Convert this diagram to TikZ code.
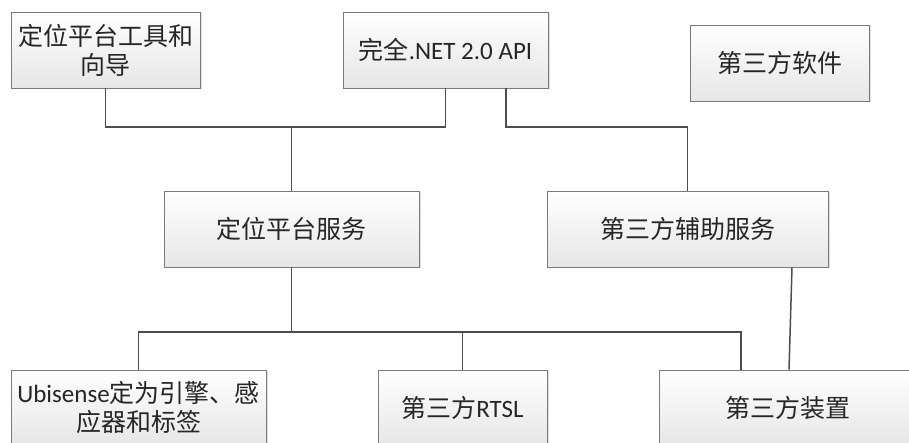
\documentclass[tikz,border=0pt]{standalone}
\usepackage{fontspec}
\setmainfont{Carlito}
\newfontfamily\cjk{Noto Sans CJK SC}
\usetikzlibrary{shadows}

\definecolor{boxline}{HTML}{7A7A7A}
\definecolor{wire}{HTML}{4D4D4D}
\definecolor{ink}{HTML}{262626}
\definecolor{boxbottom}{HTML}{E6E6E6}

\tikzset{
  unitbox/.style={
    draw=boxline, line width=0.9pt,
    top color=white, bottom color=boxbottom,
    drop shadow={shadow xshift=1.5pt, shadow yshift=-1.5pt, opacity=0.25},
    minimum height=76pt, inner sep=2pt,
    align=center, text=ink,
    font=\fontsize{25}{29}\selectfont
  },
  wireline/.style={draw=wire, line width=1.5pt}
}

\begin{document}
\begin{tikzpicture}[x=1pt, y=1pt]
  \useasboundingbox (0,0) rectangle (909,443);
  \clip (0,0) rectangle (909,443);

  % top row
  \node[unitbox, minimum width=189pt] (tools) at (105.5,393) {{\cjk 定位平台工具和}\\{\cjk 向导}};
  \node[unitbox, minimum width=205pt] (api)   at (445.5,393) {{\cjk 完全}.NET 2.0 API};
  \node[unitbox, minimum width=179pt] (soft)  at (779.5,380) {{\cjk 第三方软件}};

  % middle row
  \node[unitbox, minimum width=255pt] (svc) at (291.5,214) {{\cjk 定位平台服务}};
  \node[unitbox, minimum width=281pt] (aux) at (687.5,214) {{\cjk 第三方辅助服务}};

  % bottom row
  \node[unitbox, minimum width=255pt] (ubi)  at (138.5,35) {Ubisense{\cjk 定为引擎、感}\\{\cjk 应器和标签}};
  \node[unitbox, minimum width=169pt] (rtsl) at (462.5,35) {{\cjk 第三方}RTSL};
  \node[unitbox, minimum width=258pt] (dev)  at (788,35)   {{\cjk 第三方装置}};

  % bus levels and off-centre attachment points
  \coordinate (busA) at (0,316);
  \coordinate (busB) at (0,111);
  \coordinate (apiR) at ([xshift=60.5pt]api.south);
  \coordinate (devL) at ([xshift=-47pt]dev.north);
  \coordinate (auxR) at ([xshift=104.5pt]aux.south);
  \coordinate (devR) at ([xshift=1pt]dev.north);

  % upper connections
  \draw[wireline] (tools.south) |- (api.south |- busA) -- (api.south);
  \draw[wireline] (svc.north) -- (svc.north |- busA);
  \draw[wireline] (apiR) |- (aux.north |- busA) -- (aux.north);

  % lower connections
  \draw[wireline] (svc.south) -- (svc.south |- busB);
  \draw[wireline] (ubi.north) |- (devL |- busB) -- (devL);
  \draw[wireline] (rtsl.north) -- (rtsl.north |- busB);
  \draw[wireline] (auxR) -- (devR);
\end{tikzpicture}
\end{document}
